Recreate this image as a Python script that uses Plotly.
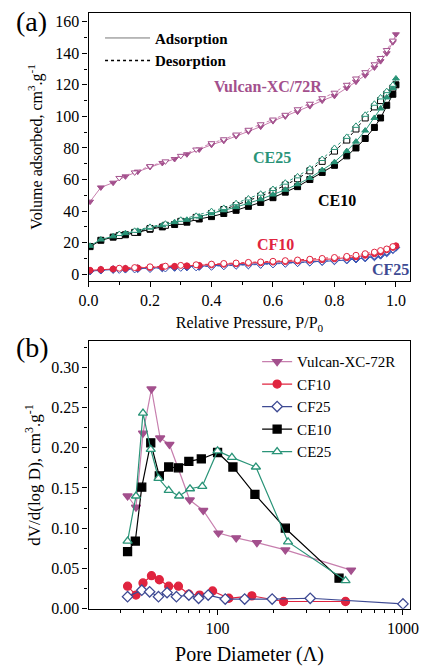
import plotly.graph_objects as go

# ---------------- Panel (a): isotherms ----------------
P_ads = [0.005, 0.04, 0.08, 0.12, 0.16, 0.20, 0.24, 0.28, 0.32, 0.36, 0.40, 0.44, 0.48,
         0.52, 0.56, 0.60, 0.64, 0.68, 0.72, 0.76, 0.80, 0.84, 0.87, 0.90, 0.93, 0.95,
         0.97, 0.99, 1.0]
P_des = [0.99, 0.97, 0.95, 0.93, 0.90, 0.87, 0.84, 0.80, 0.76, 0.72, 0.68, 0.64, 0.60,
         0.56, 0.52, 0.48, 0.44, 0.40, 0.35, 0.30, 0.25, 0.20, 0.15, 0.10]

vulcan_ads = [46, 55, 58, 62, 65, 68, 70.5, 73, 76, 79, 82, 84.5, 87.5, 90.5, 93.5, 97,
              100, 103, 106.5, 110, 113, 118, 122, 126, 131, 135, 140, 147, 152]
vulcan_des = [148, 142, 137, 133, 128, 124, 120, 115, 111.5, 108, 104.5, 101, 98, 95,
              91.5, 88.5, 85.5, 83, 79, 75, 71.5, 68.5, 64.5, 61]

ce25_ads = [18, 22, 24, 26, 27.5, 29.5, 31, 33, 34.5, 36.5, 38.5, 40.5, 42.5, 45, 47.5,
            50.5, 53.5, 57, 61, 66, 71, 78, 84, 91, 99, 105, 112, 118, 124]
ce25_des = [120, 116, 112, 108, 101, 94, 87, 80, 73, 67, 62, 58, 54, 51, 48, 45, 42, 40,
            37, 34.5, 32, 30, 27.5, 25.5]

ce10_ads = [17.5, 21.5, 23.5, 25, 26.5, 28.5, 30, 31.5, 33, 35, 36.5, 38.5, 40.5, 43,
            45.5, 48.5, 52, 55.5, 60, 64.5, 69, 75, 80, 86, 93, 99, 107, 114, 120]
ce10_des = [118, 114, 110, 106, 99, 92, 85, 78, 71.5, 65.5, 60.5, 56.5, 52.5, 49.5,
            46.5, 43.5, 41, 38.5, 36, 33.5, 31, 29, 26.5, 24.5]

cf10_ads = [2.5, 3, 3.3, 3.7, 4, 4.3, 4.6, 5, 5.3, 5.6, 6, 6.3, 6.6, 7, 7.3, 7.7, 8, 8.4,
            8.8, 9.2, 9.8, 10.5, 11, 12, 13, 14, 15.5, 17, 18]
cf10_des = [17.5, 16, 15, 14, 13, 12, 11.3, 10.6, 10, 9.5, 9, 8.6, 8.2, 7.8, 7.5, 7.1,
            6.8, 6.4, 6, 5.6, 5.1, 4.7, 4.2, 3.8]

cf25_ads = [2, 2.6, 3, 3.2, 3.5, 3.8, 4, 4.3, 4.6, 4.9, 5.2, 5.5, 5.8, 6, 6.3, 6.6, 7,
            7.3, 7.6, 8, 8.5, 9, 9.6, 10.3, 11, 12, 13.5, 15.5, 17]
cf25_des = [16, 14.5, 13, 12, 11, 10.2, 9.5, 8.8, 8.2, 7.7, 7.3, 6.9, 6.5, 6.2, 5.9,
            5.6, 5.3, 5, 4.6, 4.3, 3.9, 3.6, 3.3, 3]

# ---------------- Panel (b): pore size distributions ----------------
D_vulcan = [32.7, 36.3, 39.6, 44, 49, 55, 70.8, 83.7, 101, 126, 163, 232, 525]
V_vulcan = [0.140, 0.126, 0.218, 0.273, 0.212, 0.204, 0.135, 0.122, 0.094, 0.088,
            0.082, 0.073, 0.048]

D_cf10 = [32.7, 36.3, 39.6, 44, 48.5, 54.5, 61.5, 70, 80, 94, 115, 153, 227, 490]
V_cf10 = [0.028, 0.017, 0.032, 0.041, 0.036, 0.028, 0.028, 0.018, 0.017, 0.022,
          0.013, 0.016, 0.009, 0.009]

D_cf25 = [32.7, 39, 43, 48, 53.4, 60, 70, 79, 89, 110, 140, 197, 316, 1000]
V_cf25 = [0.015, 0.023, 0.021, 0.015, 0.020, 0.015, 0.017, 0.013, 0.017, 0.012,
          0.012, 0.012, 0.013, 0.006]

D_ce10 = [32.7, 36.0, 39, 43.6, 48.5, 54.5, 61.5, 70, 81.7, 100, 121, 159, 232, 452]
V_ce10 = [0.071, 0.084, 0.151, 0.206, 0.165, 0.176, 0.175, 0.183, 0.186, 0.194,
          0.176, 0.142, 0.100, 0.038]

D_ce25 = [32.7, 36.3, 39.6, 43.6, 48, 54.5, 62, 71, 82.7, 100, 119.5, 161, 240, 490]
V_ce25 = [0.084, 0.140, 0.243, 0.198, 0.162, 0.147, 0.140, 0.149, 0.152, 0.196,
          0.188, 0.176, 0.083, 0.035]

FONT = "Liberation Serif"
C_VUL = "#a3508d"
C_VUL_L = "#c77fae"
C_CE25 = "#2a9478"
C_CF10 = "#e0243f"
C_CF25 = "#3e4a93"
C_CF25A = "#3a55b4"

fig = go.Figure()

def iso(x, y, color, symbol, dash, lc=None, fill=True):
    fig.add_trace(go.Scatter(
        x=x, y=y, mode="lines+markers", xaxis="x", yaxis="y", showlegend=False,
        line=dict(color=lc or color, width=1, dash=dash),
        marker=dict(symbol=symbol, size=6, color=color if fill else "white",
                    line=dict(color=color, width=1))))

# Panel (a) traces
iso(P_ads, cf25_ads, C_CF25A, "diamond", "solid")
iso(P_des, cf25_des, C_CF25A, "diamond", "dot", fill=False)
iso(P_ads, cf10_ads, C_CF10, "circle", "solid")
iso(P_des, cf10_des, C_CF10, "circle", "dot", fill=False)
iso(P_ads, ce10_ads, "black", "square", "solid")
iso(P_des, ce10_des, "black", "square", "dot", fill=False)
iso(P_ads, ce25_ads, C_CE25, "triangle-up", "solid")
iso(P_des, ce25_des, C_CE25, "triangle-up", "dot", fill=False)
iso(P_ads, vulcan_ads, C_VUL, "triangle-down", "solid", C_VUL_L)
iso(P_des, vulcan_des, C_VUL, "triangle-down", "dot", C_VUL_L, fill=False)

# Legend (a) entries
fig.add_trace(go.Scatter(x=[None], y=[None], mode="lines", name="<b>Adsorption</b>",
                         line=dict(color="#777777", width=1), legend="legend2",
                         xaxis="x", yaxis="y"))
fig.add_trace(go.Scatter(x=[None], y=[None], mode="lines", name="<b>Desorption</b>",
                         line=dict(color="black", width=1.5, dash="dot"), legend="legend2",
                         xaxis="x", yaxis="y"))

# Panel (b) traces
def psd(x, y, name, color, symbol, lc, fill=True):
    fig.add_trace(go.Scatter(
        x=x, y=y, mode="lines+markers", name=name, xaxis="x2", yaxis="y2",
        line=dict(color=lc, width=1.2),
        marker=dict(symbol=symbol, size=8, color=color if fill else "white",
                    line=dict(color=color, width=1.3))))

psd(D_vulcan, V_vulcan, "Vulcan-XC-72R", C_VUL, "triangle-down", C_VUL_L)
psd(D_cf10, V_cf10, "CF10", C_CF10, "circle", C_CF10)
psd(D_cf25, V_cf25, "CF25", C_CF25, "diamond", C_CF25, fill=False)
psd(D_ce10, V_ce10, "CE10", "black", "square", "black")
psd(D_ce25, V_ce25, "CE25", C_CE25, "triangle-up", C_CE25, fill=False)

axis_common = dict(showline=True, linecolor="black", linewidth=1.2, mirror=True,
                   ticks="outside", ticklen=5, tickwidth=1, tickcolor="black",
                   showgrid=False, zeroline=False,
                   tickfont=dict(family=FONT, size=16, color="black"))

dom_x = [82 / 427, 418 / 427]

fig.update_layout(
    width=427, height=672, margin=dict(l=0, r=0, t=0, b=0),
    paper_bgcolor="white", plot_bgcolor="white",
    font=dict(family=FONT, color="black"),
    xaxis=dict(domain=dom_x, anchor="y", range=[0, 1.047], dtick=0.2,
               tickformat=".1f",
               minor=dict(dtick=0.1, ticks="outside", ticklen=3, tickcolor="black"),
               title=dict(text="Relative Pressure, P/P<sub>0</sub>",
                          font=dict(family=FONT, size=16), standoff=8),
               **axis_common),
    yaxis=dict(domain=[1 - 285 / 672, 1 - 13 / 672], anchor="x", range=[-4.4, 165.6],
               dtick=20,
               minor=dict(dtick=10, ticks="outside", ticklen=3, tickcolor="black"),
               title=dict(text="Volume adsorbed, cm<sup>3</sup>.g<sup>-1</sup>",
                          font=dict(family=FONT, size=16), standoff=8),
               **axis_common),
    xaxis2=dict(domain=dom_x, anchor="y2", type="log", range=[1.304, 3.04],
                tickvals=[100, 1000], ticktext=["100", "1000"],
                minor=dict(tickvals=[20, 30, 40, 50, 60, 70, 80, 90, 200, 300, 400,
                                     500, 600, 700, 800, 900],
                           ticks="outside", ticklen=3, tickcolor="black"),
                title=dict(text="Pore Diameter (Λ)", font=dict(family=FONT, size=20),
                           standoff=10),
                **axis_common),
    yaxis2=dict(domain=[1 - 617 / 672, 1 - 346 / 672], anchor="x2", range=[0, 0.332],
                dtick=0.05, tickformat=".2f",
                minor=dict(dtick=0.025, ticks="outside", ticklen=3, tickcolor="black"),
                title=dict(text="dV/d(log D), cm<sup>3</sup>.g<sup>-1</sup>",
                           font=dict(family=FONT, size=17), standoff=6),
                **axis_common),
    legend=dict(x=258 / 427, y=1 - 350 / 672, xanchor="left", yanchor="top",
                bgcolor="rgba(0,0,0,0)", font=dict(family=FONT, size=15),
                tracegroupgap=0, itemwidth=30),
    legend2=dict(x=94 / 427, y=1 - 22 / 672, xanchor="left", yanchor="top",
                 bgcolor="rgba(0,0,0,0)", font=dict(family=FONT, size=15),
                 itemwidth=45),
)

ann = [
    dict(text="Vulcan-XC/72R", x=0.583, y=119, color=C_VUL),
    dict(text="CE25", x=0.598, y=74, color=C_CE25),
    dict(text="CE10", x=0.807, y=47, color="black"),
    dict(text="CF10", x=0.607, y=19, color=C_CF10),
    dict(text="CF25", x=0.981, y=3, color=C_CF25),
]
for a in ann:
    fig.add_annotation(x=a["x"], y=a["y"], xref="x", yref="y", text="<b>%s</b>" % a["text"],
                       showarrow=False, font=dict(family=FONT, size=16, color=a["color"]))

fig.add_annotation(x=4 / 427, y=1 - 22 / 672, xref="paper", yref="paper", text="(a)",
                   showarrow=False, xanchor="left", yanchor="middle",
                   font=dict(family=FONT, size=28, color="black"))
fig.add_annotation(x=4 / 427, y=1 - 352 / 672, xref="paper", yref="paper", text="(b)",
                   showarrow=False, xanchor="left", yanchor="middle",
                   font=dict(family=FONT, size=28, color="black"))

fig.write_html("out.html")
